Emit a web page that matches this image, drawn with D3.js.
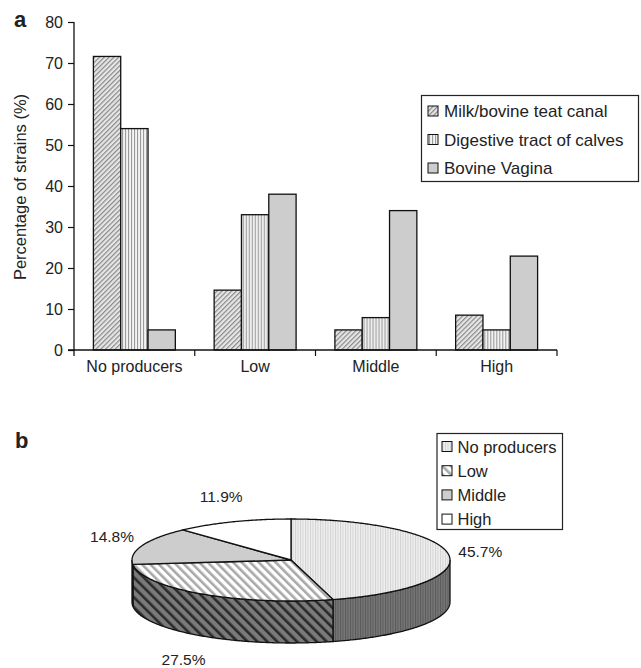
<!DOCTYPE html>
<html><head><meta charset="utf-8">
<script src="https://cdn.jsdelivr.net/npm/d3@7"></script>
<style>
body{margin:0;background:#fff;}
text{font-family:"Liberation Sans",Arial,sans-serif;fill:#222;}
</style></head>
<body>
<svg id="c" width="641" height="668"></svg>
<script>
// ---- data ----
const categories = ["No producers", "Low", "Middle", "High"];
const sources = ["Milk/bovine teat canal", "Digestive tract of calves", "Bovine Vagina"];
const milkValues = [71.6, 14.6, 4.9, 8.5];
const digestiveValues = [54, 33, 7.9, 4.9];
const vaginaValues = [4.9, 38, 34, 22.9];
const yTicks = [0, 10, 20, 30, 40, 50, 60, 70, 80];
const pieLabels = ["No producers", "Low", "Middle", "High"];
const pieValues = [45.7, 27.5, 14.8, 11.9];

const svg = d3.select("#c");
const defs = svg.append("defs");

function hatch(id, bg, stroke, angle, spacing, sw) {
  const p = defs.append("pattern").attr("id", id).attr("patternUnits", "userSpaceOnUse")
    .attr("width", spacing).attr("height", spacing).attr("patternTransform", `rotate(${angle})`);
  p.append("rect").attr("width", spacing).attr("height", spacing).attr("fill", bg);
  p.append("rect").attr("width", sw).attr("height", spacing).attr("fill", stroke);
}
hatch("pMilk", "#e6e6e6", "#8a8a8a", 45, 3.4, 1.2);
hatch("pDig", "#f4f4f4", "#9a9a9a", 0, 3, 1.1);
hatch("pNoTop", "#f0f0f0", "#d2d2d2", 0, 2.5, 1);
hatch("pNoSide", "#777", "#5a5a5a", 0, 2.5, 1);
hatch("pLowTop", "#ffffff", "#a8a8a8", -45, 6, 2.6);
hatch("pLowSide", "#7a7a7a", "#2a2a2a", -45, 7, 2.6);

const fills = ["url(#pMilk)", "url(#pDig)", "#cdcdcd"];
const seriesValues = [milkValues, digestiveValues, vaginaValues];

// ---- panel a: grouped bars ----
const y = d3.scaleLinear().domain([0, 80]).range([350, 22]);
const x0 = d3.scaleBand().domain(categories).range([74, 557]).padding(0);
const x1 = d3.scaleBand().domain(sources).range([0, x0.bandwidth()]).paddingInner(0).paddingOuter(0.71);

const rows = categories.map((c, i) => ({cat: c, vals: sources.map((s, j) => ({s, v: seriesValues[j][i], j}))}));
const g = svg.append("g");
g.selectAll("g.grp").data(rows).join("g").attr("class", "grp")
  .attr("transform", d => `translate(${x0(d.cat)},0)`)
  .selectAll("rect").data(d => d.vals).join("rect")
  .attr("x", d => x1(d.s)).attr("width", x1.bandwidth())
  .attr("y", d => y(d.v)).attr("height", d => y(0) - y(d.v))
  .attr("fill", d => fills[d.j]).attr("stroke", "#111").attr("stroke-width", 1.3);

const yAxis = svg.append("g").attr("transform", "translate(74,0)")
  .call(d3.axisLeft(y).tickValues(yTicks).tickSize(6).tickPadding(5));
yAxis.select(".domain").attr("stroke", "#111").attr("stroke-width", 1.3).attr("d", "M0,22V356");
yAxis.selectAll("line").attr("stroke", "#111").attr("stroke-width", 1.2);
yAxis.selectAll("text").attr("font-size", 16).attr("fill", "#222");

const xAxis = svg.append("g").attr("transform", "translate(0,350)")
  .call(d3.axisBottom(x0).tickSize(0).tickPadding(11));
xAxis.select(".domain").attr("stroke", "#111").attr("stroke-width", 1.3).attr("d", "M68,0H557");
xAxis.selectAll("text").attr("font-size", 16).attr("fill", "#222");
const bounds = categories.map(c => x0(c) + x0.bandwidth());
svg.append("g").selectAll("line").data(bounds).join("line")
  .attr("x1", d => d).attr("x2", d => d).attr("y1", 350).attr("y2", 356)
  .attr("stroke", "#111").attr("stroke-width", 1.2);

svg.append("text").attr("transform", "translate(26,187) rotate(-90)")
  .attr("text-anchor", "middle").attr("font-size", 16.5).text("Percentage of strains (%)");
svg.append("text").attr("x", 14).attr("y", 27).attr("font-size", 22).attr("font-weight", "bold").text("a");

// legend a
const la = svg.append("g");
la.append("rect").attr("x", 421.5).attr("y", 95.5).attr("width", 217).attr("height", 86)
  .attr("fill", "#fff").attr("stroke", "#222").attr("stroke-width", 1.2);
sources.forEach((s, i) => {
  const yy = 111 + i * 28.5;
  la.append("rect").attr("x", 428).attr("y", yy - 5).attr("width", 10).attr("height", 10)
    .attr("fill", fills[i]).attr("stroke", "#111").attr("stroke-width", 1);
  la.append("text").attr("x", 444).attr("y", yy + 6).attr("font-size", 17).text(s);
});

// ---- panel b: 3D pie ----
svg.append("text").attr("x", 15).attr("y", 448).attr("font-size", 22).attr("font-weight", "bold").text("b");
const cx = 291, cy = 560, rx = 159, ry = 41, depth = 42;
const pt = (a, dy = 0) => [cx + rx * Math.sin(a), cy - ry * Math.cos(a) + dy];
const arcs = d3.pie().sort(null).value(d => d)(pieValues);
const topFills = ["url(#pNoTop)", "url(#pLowTop)", "#cdcdcd", "#ffffff"];
const sideFills = ["url(#pNoSide)", "url(#pLowSide)", "#888", "#bbb"];
const line = d3.line();
function samples(a0, a1) {
  const n = Math.max(2, Math.ceil(Math.abs(a1 - a0) / 0.01));
  return d3.range(n + 1).map(k => a0 + (a1 - a0) * k / n);
}
const pg = svg.append("g");
arcs.forEach((a, i) => {
  const s0 = Math.max(a.startAngle, Math.PI / 2), s1 = Math.min(a.endAngle, 3 * Math.PI / 2);
  if (s1 <= s0) return;
  const top = samples(s0, s1).map(t => pt(t));
  const bot = samples(s1, s0).map(t => pt(t, depth));
  pg.append("path").attr("d", line(top.concat(bot)) + "Z")
    .attr("fill", sideFills[i]).attr("stroke", "#111").attr("stroke-width", 1.3);
});
arcs.forEach((a, i) => {
  const pts = [[cx, cy]].concat(samples(a.startAngle, a.endAngle).map(t => pt(t)));
  pg.append("path").attr("d", line(pts) + "Z")
    .attr("fill", topFills[i]).attr("stroke", "#111").attr("stroke-width", 1.3).attr("stroke-linejoin", "round");
});
arcs.forEach((a, i) => {
  const m = (a.startAngle + a.endAngle) / 2;
  const lx = cx + (rx + 32) * Math.sin(m);
  const ly = cy - (ry + 28) * Math.cos(m) + (Math.cos(m) < 0 ? depth : 0);
  pg.append("text").attr("x", lx).attr("y", ly + 6).attr("text-anchor", "middle")
    .attr("font-size", 15.5).text(d3.format(".1f")(pieValues[i]) + "%");
});

// legend b
const lb = svg.append("g");
lb.append("rect").attr("x", 437).attr("y", 433.5).attr("width", 125.5).attr("height", 96)
  .attr("fill", "#fff").attr("stroke", "#222").attr("stroke-width", 1.2);
const legFills = ["url(#pNoTop)", "url(#pLowTop)", "#cdcdcd", "#ffffff"];
pieLabels.forEach((s, i) => {
  const yy = 446.5 + i * 24.2;
  lb.append("rect").attr("x", 442).attr("y", yy - 5).attr("width", 10).attr("height", 10)
    .attr("fill", legFills[i]).attr("stroke", "#111").attr("stroke-width", 1);
  lb.append("text").attr("x", 457.5).attr("y", yy + 6).attr("font-size", 16.5).text(s);
});
</script>
</body></html>
